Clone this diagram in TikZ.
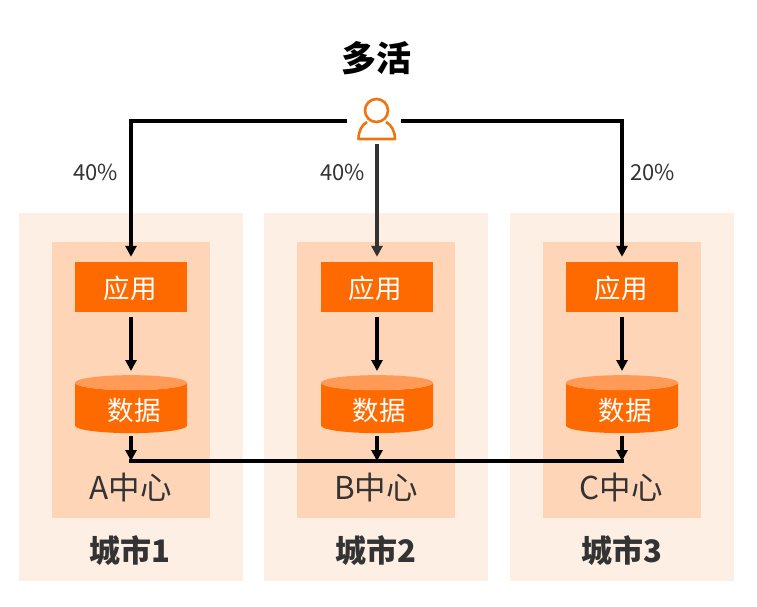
\documentclass[tikz,border=0pt]{standalone}
\usepackage{fontspec}
\setmainfont{Noto Sans CJK SC}
\usetikzlibrary{arrows.meta,shapes.geometric}
\definecolor{cityfill}{HTML}{FEEFE5}
\definecolor{centerfill}{HTML}{FFD5B8}
\definecolor{brand}{HTML}{FF6A00}
\definecolor{brandlight}{HTML}{FF9B57}
\definecolor{icon}{HTML}{EE7410}
\definecolor{ink}{HTML}{333333}
\newcommand{\pxfont}[1]{\fontsize{#1}{#1}\selectfont}
\tikzset{
  x=1pt,y=-1pt,
  citybox/.style={fill=cityfill,draw=none,minimum width=224pt,minimum height=368pt,inner sep=0},
  centerbox/.style={fill=centerfill,draw=none,minimum width=158pt,minimum height=276pt,inner sep=0},
  appbox/.style={fill=brand,draw=none,text=white,minimum width=112pt,minimum height=50pt,inner sep=0,font=\pxfont{26}},
  dbbox/.style={cylinder,shape border rotate=90,aspect=0.29,draw=none,cylinder uses custom fill,
    cylinder body fill=brand,cylinder end fill=brandlight,minimum width=112pt,minimum height=58pt,inner sep=0,font=\pxfont{26}},
  dbtext/.style={text=white,inner sep=0,font=\pxfont{26.5}},
  flow/.style={draw=black,line width=3.2pt,-{Stealth[length=11pt,width=11pt,inset=0pt]}},
  plainflow/.style={draw=black,line width=3.2pt},
  caption/.style={text=ink,font=\pxfont{31.5}},
  citycaption/.style={text=ink,font=\pxfont{31}\bfseries},
  share/.style={text=ink,font=\pxfont{22}},
}
\begin{document}
\begin{tikzpicture}
\useasboundingbox (0,0) rectangle (757,606);
\fill[white] (0,0) rectangle (757,606);

% city panels
\node[citybox] (city1) at (131,397) {};
\node[citybox] (city2) at (376,397) {};
\node[citybox] (city3) at (622,397) {};

% data-centre panels
\node[centerbox] (center1) at (131,380) {};
\node[centerbox] (center2) at (376,380) {};
\node[centerbox] (center3) at (622,380) {};

% application tier
\node[appbox] (app1) at (131,287) {};
\node[appbox] (app2) at (377,287) {};
\node[appbox] (app3) at (622,287) {};
\node[dbtext] (apptext1) at (130,288) {应用};
\node[dbtext] (apptext2) at (375,288) {应用};
\node[dbtext] (apptext3) at (621,288) {应用};

% data tier: the phantom keeps the cylinder's end caps at full size
\node[dbbox] (db1) at (131,408) {\phantom{数据}};
\node[dbbox] (db2) at (377,408) {\phantom{数据}};
\node[dbbox] (db3) at (622,408) {\phantom{数据}};
\node[dbtext] (dbtext1) at (134,410) {数据};
\node[dbtext] (dbtext2) at (379,410) {数据};
\node[dbtext] (dbtext3) at (625,410) {数据};

% replication bus junctions
\coordinate (bus1) at (131,461);
\coordinate (bus2) at (377,461);
\coordinate (bus3) at (622,461);

% titles and captions
\node[font=\pxfont{35}\bfseries,text=black] (title) at (376,58) {多活};
\node[caption] (label1) at (130.5,488) {A中心};
\node[caption] (label2) at (376,488) {B中心};
\node[caption] (label3) at (621,488) {C中心};
\node[citycaption] (name1) at (129.5,551) {城市1};
\node[citycaption] (name2) at (376,551) {城市2};
\node[citycaption] (name3) at (622,551) {城市3};
\node[share] (share1) at (95.5,172) {40\%};
\node[share] (share2) at (342.5,172) {40\%};
\node[share] (share3) at (652.5,172) {20\%};

% user icon
\node[minimum width=54pt,minimum height=46pt,inner sep=0] (user) at (374,121) {};
\draw[icon,line width=2.6pt] (376.5,110.5) circle[radius=11.5];
\draw[icon,line width=2.6pt,line join=round]
  (367,122) .. controls (362,124.5) and (358.5,131) .. (358.5,139)
  -- (395,139) .. controls (395,131) and (391,124.5) .. (386,122);

% traffic from the user to each application
\draw[flow,shorten >=5pt] (user.west) -| (app1.north);
\draw[flow,draw=ink,shorten >=5pt] (app2.north |- user.south) -- (app2.north);
\draw[flow,shorten >=5pt] (user.east) -| (app3.north);

% application to data
\foreach \i in {1,2,3}{
  \draw[flow,shorten <=5pt,shorten >=4pt] (app\i.south) -- (app\i.south |- 0,375);
  \draw[flow,shorten <=3pt] (app\i.south |- 0,433) -- (bus\i);
}
\draw[plainflow,line cap=rect] (bus1) -- (bus3);
\end{tikzpicture}
\end{document}
